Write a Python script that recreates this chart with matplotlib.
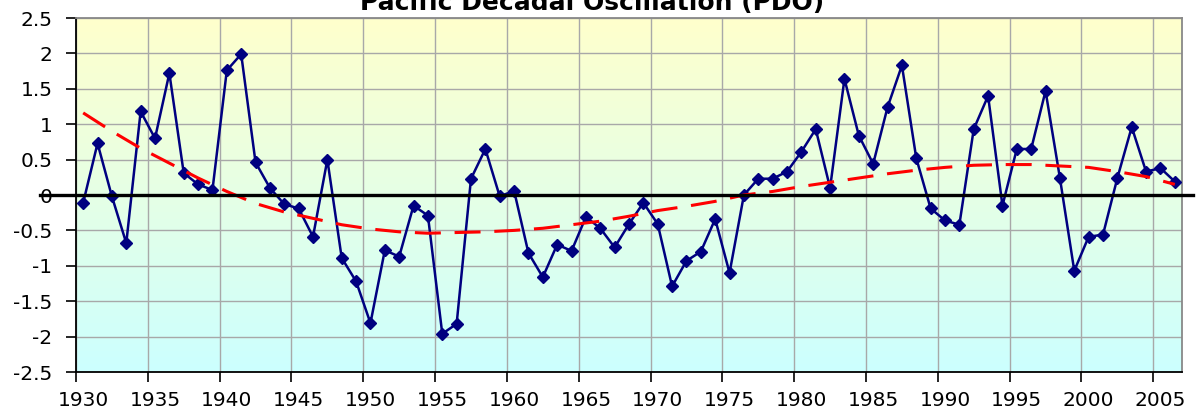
import numpy as np
import matplotlib
matplotlib.use("Agg")
import matplotlib.pyplot as plt
from matplotlib.colors import LinearSegmentedColormap
import matplotlib.transforms as mtransforms

# annual PDO index
years = list(range(1930, 2007))
pdo = [-0.11, 0.73, -0.02, -0.68, 1.18, 0.80, 1.72, 0.31, 0.15, 0.07,
       1.76, 1.99, 0.46, 0.10, -0.13, -0.19, -0.59, 0.50, -0.89, -1.22,
       -1.81, -0.78, -0.87, -0.15, -0.29, -1.96, -1.82, 0.23, 0.65, -0.02,
       0.06, -0.82, -1.16, -0.70, -0.79, -0.31, -0.47, -0.74, -0.41, -0.11,
       -0.41, -1.29, -0.93, -0.80, -0.34, -1.10, 0.00, 0.23, 0.23, 0.33,
       0.61, 0.93, 0.10, 1.64, 0.84, 0.44, 1.24, 1.83, 0.52, -0.19,
       -0.36, -0.42, 0.93, 1.40, -0.15, 0.65, 0.65, 1.47, 0.24, -1.07,
       -0.59, -0.56, 0.24, 0.96, 0.33, 0.38, 0.19]

# red dashed trend line, every second year
trend_years = list(range(1930, 2007, 2))
trend = [1.16, 0.90, 0.66, 0.45, 0.24, 0.05, -0.12, -0.24, -0.33, -0.42,
         -0.48, -0.52, -0.54, -0.53, -0.52, -0.50, -0.47, -0.42, -0.37, -0.30,
         -0.22, -0.16, -0.09, 0.00, 0.05, 0.12, 0.18, 0.24, 0.30, 0.35,
         0.39, 0.42, 0.43, 0.43, 0.41, 0.39, 0.33, 0.26, 0.15]

x_ticks = list(range(1930, 2006, 5))
y_ticks = [-2.5, -2, -1.5, -1, -0.5, 0, 0.5, 1, 1.5, 2, 2.5]
y_labels = ["-2.5", "-2", "-1.5", "-1", "-0.5", "0", "0.5", "1", "1.5", "2", "2.5"]
title = "Pacific Decadal Oscillation (PDO)"

plt.rcParams['font.family'] = ['DejaVu Sans']

fig = plt.figure(figsize=(11.97, 4.11), dpi=100)
ax = fig.add_axes([76 / 1197, 1 - 372 / 411, (1182 - 76) / 1197, (372 - 18) / 411])

# yellow-to-cyan background
cmap = LinearSegmentedColormap.from_list("bg", ["#CCFFFF", "#FFFFCC"])
grad = np.linspace(0, 1, 256).reshape(-1, 1)
ax.imshow(grad, extent=[1930, 2007, -2.5, 2.5], origin="lower", aspect="auto",
          cmap=cmap, zorder=0)

# categories sit in the middle of each year slot
xc = [y + 0.5 for y in years]
tx = [y + 0.5 for y in trend_years]

ax.plot(xc, pdo, color="#000080", lw=1.8, marker="D", ms=6.5,
        mfc="#000080", mec="#000080", zorder=3)
ax.plot(tx, trend, color="#FF0000", lw=2.2, dashes=(8.5, 4.5), zorder=4,
        dash_capstyle="butt")

# thick zero line, runs a bit past the frame
trans = mtransforms.blended_transform_factory(ax.transAxes, ax.transData)
ax.plot([-0.033, 1.01], [0, 0], color="black", lw=2.4, transform=trans,
        clip_on=False, zorder=5)

ax.set_xlim(1930, 2007)
ax.set_ylim(-2.5, 2.5)

ax.set_xticks(x_ticks)
ax.set_xticklabels([])
ax.set_xticks([t + 0.5 for t in x_ticks], minor=True)
ax.set_xticklabels([str(t) for t in x_ticks], minor=True, fontsize=14.5)
ax.tick_params(axis="x", which="major", direction="out", length=7, width=1.2)
ax.tick_params(axis="x", which="minor", length=0, pad=14)

ax.set_yticks(y_ticks)
ax.set_yticklabels(y_labels, fontsize=14.5)
ax.tick_params(axis="y", direction="out", length=7, width=1.2, pad=10)

ax.grid(True, which="major", color="#A8A8A8", lw=1.0, zorder=1)
ax.set_axisbelow(True)

for s in ["left", "bottom"]:
    ax.spines[s].set_color("black")
    ax.spines[s].set_linewidth(1.3)
for s in ["top", "right"]:
    ax.spines[s].set_color("#888888")
    ax.spines[s].set_linewidth(1.3)

fig.text(592 / 1197, 1 - 10 / 411, title, ha="center", va="baseline",
         fontsize=18, fontweight="bold")

fig.savefig("out.png", dpi=100)
